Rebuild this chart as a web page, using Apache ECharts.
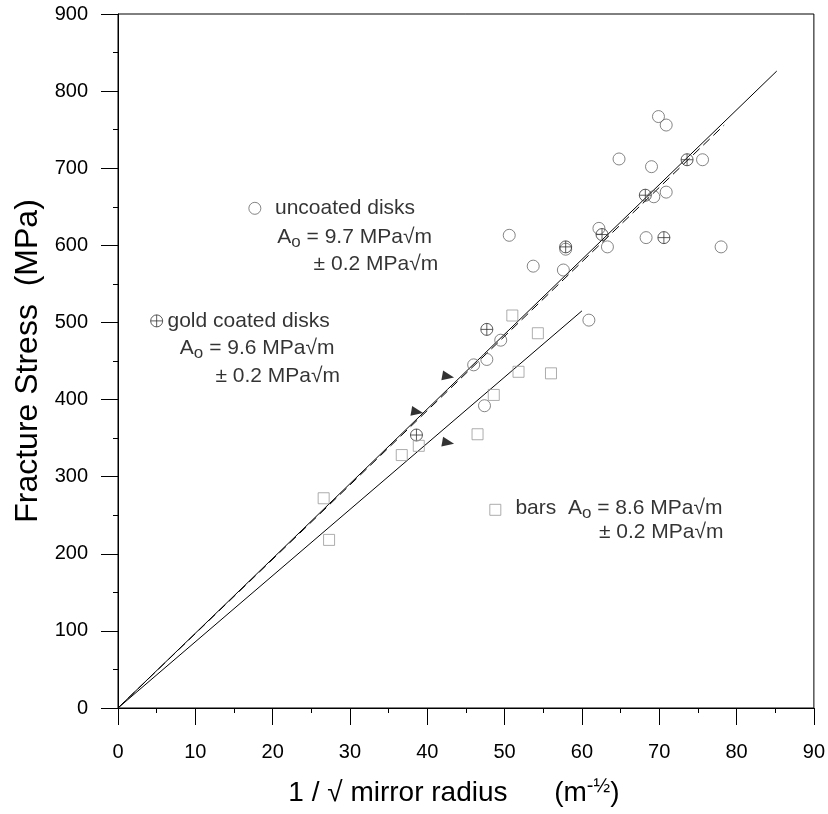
<!DOCTYPE html>
<html><head><meta charset="utf-8">
<script src="https://cdn.jsdelivr.net/npm/echarts@6/dist/echarts.min.js"></script>
<style>html,body{margin:0;padding:0;background:#fff}#c{width:828px;height:814px}</style>
</head><body><div id="c"></div>
<script>
// ---- data (x = 1/sqrt(mirror radius) [m^-1/2], y = fracture stress [MPa]) ----
const uncoated = [
  [78.0,598],[75.6,711],[69.9,767],[70.9,756],[64.8,712],[69.0,702],
  [69.3,663],[70.9,669],[68.3,610],[62.2,622],[63.3,598],[57.9,595],
  [57.6,568],[53.7,573],[50.6,613],[60.9,503],[47.7,452],[46.0,445],
  [49.5,477],[47.4,392]
];
const gold = [[73.6,711],[68.2,665],[70.6,610],[62.6,614],[57.9,598],[47.7,491],[38.6,354]];
const bars = [[51.0,509],[54.3,486],[51.8,436],[56.0,434],[48.6,406],[46.5,355],[36.7,328],[38.9,340],[27.3,218],[26.6,272]];
const arrows = [[42.7,430],[38.7,384],[42.7,344]];
const fitUncoated = [[0,0],[85.2,826]];
const fitGold = [[0,0],[78.4,756]];
const fitBars = [[0,0],[60.0,515]];
const legendUncoated = [[17.7,648]];
const legendGold = [[5.0,502]];
const legendBars = [[48.8,257]];
const noteTexts = ['uncoated disks','A{s|o} = 9.7 MPa√m','± 0.2 MPa√m',
                   'gold coated disks','A{s|o} = 9.6 MPa√m','± 0.2 MPa√m',
                   'bars  A{s|o} = 8.6 MPa√m','± 0.2 MPa√m'];
const notePos = [[20.3,648],[20.6,611],[25.3,575],
                 [6.4,502],[8.0,466],[12.6,430],
                 [51.4,259],[62.2,228]];
const xTitle = '1 / √ mirror radius      (m{p|-½})';
const yTitle = 'Fracture Stress  (MPa)';

const oplus = 'path://M10,0 A10,10 0 1,1 10,20 A10,10 0 1,1 10,0 Z M0,10 L20,10 M10,0 L10,20';
const FONT = 'Liberation Sans, Arial, sans-serif';

const chart = echarts.init(document.getElementById('c'), null, {renderer:'canvas'});
const axisCommon = {
  axisLine:{show:true,onZero:false,lineStyle:{color:'#000',width:1}},
  axisTick:{show:true,inside:false,length:17,lineStyle:{color:'#000',width:1}},
  minorTick:{show:true,splitNumber:2,length:5,lineStyle:{color:'#000',width:1}},
  splitLine:{show:false},
  axisLabel:{color:'#000',fontSize:20,fontFamily:FONT}
};
const noteData = notePos.map((p,i)=>({value:p, label:{formatter:noteTexts[i]}}));
chart.setOption({
  animation:false,
  backgroundColor:'#fff',
  grid:{left:118,right:14,top:14,bottom:106,show:true,borderColor:'#000',borderWidth:1},
  xAxis:Object.assign({}, axisCommon, {
    type:'value',min:0,max:90,interval:10,
    axisLabel:Object.assign({}, axisCommon.axisLabel,{margin:34}),
    name:xTitle,nameLocation:'middle',nameGap:68,
    nameTextStyle:{fontSize:28,fontFamily:FONT,color:'#000',padding:[0,24,0,0],
      rich:{p:{fontSize:20,fontFamily:FONT,color:'#000',padding:[0,0,14,0]}}}
  }),
  yAxis:Object.assign({}, axisCommon, {
    type:'value',min:0,max:900,interval:100,
    axisLabel:Object.assign({}, axisCommon.axisLabel,{margin:30}),
    name:yTitle,nameLocation:'middle',nameGap:70,nameRotate:90,
    nameTextStyle:{fontSize:32,fontFamily:FONT,color:'#000'}
  }),
  series:[
    {type:'line',data:fitUncoated,symbol:'none',lineStyle:{color:'#000',width:1},z:3},
    {type:'line',data:fitGold,symbol:'none',lineStyle:{color:'#000',width:1,type:[9,5]},z:3},
    {type:'line',data:fitBars,symbol:'none',lineStyle:{color:'#000',width:1},z:3},
    {type:'scatter',data:uncoated.concat(legendUncoated),symbol:'circle',symbolSize:12,
      itemStyle:{color:'transparent',borderColor:'#666',borderWidth:1},z:4},
    {type:'scatter',data:gold.concat(legendGold),symbol:oplus,symbolSize:12,
      itemStyle:{color:'transparent',borderColor:'#333',borderWidth:1},z:4},
    {type:'scatter',data:bars.concat(legendBars),symbol:'rect',symbolSize:11,
      itemStyle:{color:'transparent',borderColor:'#999',borderWidth:1},z:4},
    {type:'scatter',data:arrows,symbol:'triangle',symbolSize:[10,12],symbolRotate:-100,
      itemStyle:{color:'#000'},z:5},
    {type:'scatter',data:noteData,symbolSize:0,silent:true,z:6,
      label:{show:true,position:'right',distance:0,color:'#000',fontSize:21,fontFamily:FONT,
        rich:{s:{fontSize:17,fontFamily:FONT,color:'#000',padding:[10,0,0,0]}}}}
  ]
});
</script></body></html>
